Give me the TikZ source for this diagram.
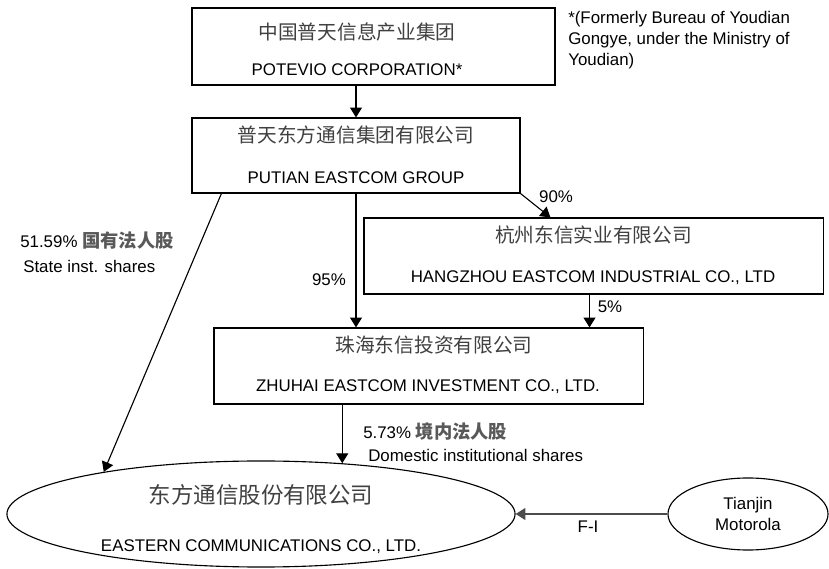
\documentclass[tikz,border=0pt]{standalone}
\usepackage{fontspec}
\setmainfont{Liberation Sans}
\newfontfamily\cn{Noto Sans CJK SC}
\usetikzlibrary{arrows.meta,shapes.geometric}
\newcommand\cnshare[1]{{\cn\bfseries\fontsize{13}{14}\selectfont\color{black!65}#1}}

\begin{document}
\begin{tikzpicture}[x=0.025cm, y=-0.025cm,
    firm/.style={draw, line width=0.8pt, rectangle, inner sep=0},
    jv/.style={draw, line width=0.8pt, ellipse, inner sep=0},
    arr/.style={line width=0.8pt, -{Triangle[length=7pt,width=8.5pt]}},
    cnname/.style={font=\cn\fontsize{14}{16}\selectfont, text=black!75, inner sep=0},
    enname/.style={font=\fontsize{12}{14}\selectfont, inner sep=0},
    pct/.style={font=\fontsize{12}{14}\selectfont, inner sep=0}]
    %%%%% START %%%%%
    \useasboundingbox (0,0) rectangle (829,569);

    % companies
    \node[firm, minimum width=9.075cm, minimum height=1.925cm] (potevio) at (373.5,46.5) {};
    \node[cnname] (potevio-cn) at (357,32) {中国普天信息产业集团};
    \node[enname] (potevio-en) at (357,70) {POTEVIO CORPORATION*};

    \node[firm, minimum width=8.2cm, minimum height=1.875cm] (putian) at (356,155.5) {};
    \node[cnname] (putian-cn) at (356,135) {普天东方通信集团有限公司};
    \node[enname] (putian-en) at (356,178) {PUTIAN EASTCOM GROUP};

    \node[firm, minimum width=11.475cm, minimum height=1.9cm] (hangzhou) at (593.5,256) {};
    \node[cnname] (hangzhou-cn) at (593.5,235) {杭州东信实业有限公司};
    \node[enname] (hangzhou-en) at (593,278) {HANGZHOU EASTCOM INDUSTRIAL CO., LTD};

    \node[firm, minimum width=10.725cm, minimum height=1.9cm] (zhuhai) at (428.5,366) {};
    \node[cnname] (zhuhai-cn) at (434,345) {珠海东信投资有限公司};
    \node[enname] (zhuhai-en) at (428,387) {ZHUHAI EASTCOM INVESTMENT CO., LTD.};

    \node[jv, minimum width=12.7cm, minimum height=2.65cm] (eastern) at (261,514) {};
    \node[cnname, font=\cn\fontsize{16}{18}\selectfont] (eastern-cn) at (261,495) {东方通信股份有限公司};
    \node[enname] (eastern-en) at (261,547) {EASTERN COMMUNICATIONS CO., LTD.};

    \node[jv, minimum width=4cm, minimum height=1.8cm, align=center,
          font=\fontsize{12}{15.6}\selectfont] (tianjin) at (748,514) {Tianjin\\Motorola};

    % note
    \node[pct, anchor=north west, align=left, font=\fontsize{12}{14.9}\selectfont] (note) at (568,11)
        {*(Formerly Bureau of Youdian\\Gongye, under the Ministry of\\Youdian)};

    % holdings
    \draw[arr] (potevio.south -| putian.north) -- (putian.north);
    \draw[arr] (putian.south) -- (putian.south |- zhuhai.north);
    \draw[arr] (putian.south east) -- ([xshift=4.675cm]hangzhou.north west);
    \draw[arr] ([xshift=-0.1cm]hangzhou.south) -- ([xshift=-0.1cm]hangzhou.south |- zhuhai.north);
    \draw[arr] ([xshift=0.75cm]putian.south west) -- (eastern.165);
    \draw[arr] (eastern.32 |- zhuhai.south) -- (eastern.32);
    \draw[arr, line width=1.2pt, draw=black!70] (tianjin.west) -- (eastern.east);

    % shares
    \node[pct] (p90) at (556,197) {90\%};
    \node[pct] (p95) at (329,280) {95\%};
    \node[pct] (p5) at (610,307) {5\%};
    \node[pct, anchor=west] (state-pct) at (20,241) {51.59\% \cnshare{国有法人股}};
    \node[pct, anchor=west] (state-en) at (23,266) {State inst. shares};
    \node[pct, anchor=west] (dom-pct) at (363,432) {5.73\% \cnshare{境内法人股}};
    \node[pct, anchor=west] (dom-en) at (368,455) {Domestic institutional shares};
    \node[pct] (fi) at (588,527) {F-I};
    %%%%% END %%%%%
\end{tikzpicture}
\end{document}
